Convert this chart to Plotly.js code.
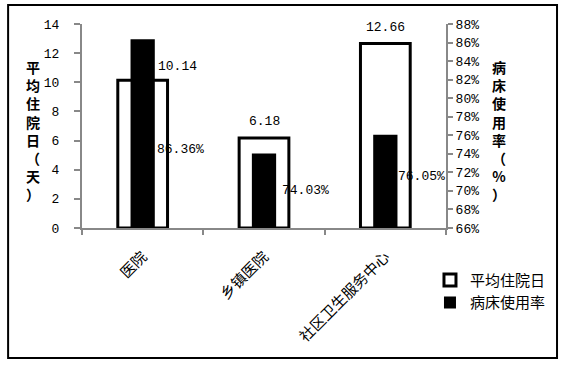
<!DOCTYPE html>
<html>
<head>
<meta charset="utf-8">
<script src="https://cdn.plot.ly/plotly-3.0.1.min.js"></script>
<style>html,body{margin:0;padding:0;background:#fff;}#chart{width:568px;height:367px;}</style>
</head>
<body>
<div id="chart"></div>
<script>
var categories = ['医院', '乡镇医院', '社区卫生服务中心'];
var avgStayDays = [10.14, 6.18, 12.66];
var bedUsageRate = [86.36, 74.03, 76.05];
var dayLabels = ['10.14', '6.18', '12.66'];
var rateLabels = ['86.36%', '74.03%', '76.05%'];
var leftTicks = [0, 2, 4, 6, 8, 10, 12, 14];
var rightTicks = [66, 68, 70, 72, 74, 76, 78, 80, 82, 84, 86, 88];
var rightTickText = rightTicks.map(function (v) { return v + '%'; });

var numFont = {family: 'Liberation Mono, monospace', size: 13, color: '#000'};
var cjk = 'Noto Sans CJK SC, sans-serif';

var traces = [
  {type: 'bar', name: '平均住院日', x: categories, y: avgStayDays, yaxis: 'y', width: 0.41,
   marker: {color: '#fff', line: {color: '#000', width: 3}}, hoverinfo: 'none'},
  {type: 'bar', name: '病床使用率', x: categories, y: bedUsageRate, yaxis: 'y2', width: 0.2,
   marker: {color: '#000', line: {width: 0}}, hoverinfo: 'none'}
];

var annotations = [];
var dayShift = [[35, 14], [0, 16], [0, 16]];
var rateShift = [[38, -16], [41, 0], [36, 5]];
for (var i = 0; i < categories.length; i++) {
  annotations.push({x: categories[i], y: avgStayDays[i], xref: 'x', yref: 'y', text: dayLabels[i],
    showarrow: false, xshift: dayShift[i][0], yshift: dayShift[i][1], font: numFont});
  annotations.push({x: categories[i], y: (bedUsageRate[i] + 66) / 2, xref: 'x', yref: 'y2', text: rateLabels[i],
    showarrow: false, xshift: rateShift[i][0], yshift: rateShift[i][1], font: numFont});
}
annotations.push({xref: 'paper', yref: 'paper', x: -0.16, y: 0.48, showarrow: false,
  text: '<b>平<br>均<br>住<br>院<br>日<br>（<br>天<br>）</b>', font: {family: cjk, size: 14, color: '#000'}});
annotations.push({xref: 'paper', yref: 'paper', x: 1.17, y: 0.48, showarrow: false,
  text: '<b>病<br>床<br>使<br>用<br>率<br>（<br>%<br>）</b>', font: {family: cjk, size: 14, color: '#000'}});

var layout = {
  width: 568, height: 367,
  margin: {l: 82, r: 122, t: 24, b: 139},
  paper_bgcolor: '#fff', plot_bgcolor: '#fff',
  barmode: 'overlay',
  showlegend: true,
  legend: {x: 0.956, y: -0.175, xanchor: 'left', yanchor: 'top', font: {family: cjk, size: 15, color: '#000'},
    bgcolor: 'rgba(0,0,0,0)', traceorder: 'normal'},
  xaxis: {type: 'category', showgrid: false, zeroline: false, showline: true, linecolor: '#888', linewidth: 2,
    ticks: 'outside', tickson: 'boundaries', ticklen: 5, tickcolor: '#888', tickwidth: 2,
    tickangle: -45, tickfont: {family: cjk, size: 15, color: '#000'}, ticklabelstandoff: 12, range: [-0.5, 2.5]},
  yaxis: {range: [0, 14], tickvals: leftTicks, showgrid: false, zeroline: false, showline: true,
    linecolor: '#888', linewidth: 2, ticks: 'outside', ticklen: 6, tickcolor: '#888', tickwidth: 2,
    tickfont: numFont, ticklabelstandoff: 12},
  yaxis2: {overlaying: 'y', side: 'right', range: [66, 88], tickmode: 'array', tickvals: rightTicks, ticktext: rightTickText,
    showgrid: false, zeroline: false, showline: true, linecolor: '#888', linewidth: 2,
    ticks: 'outside', ticklen: 5, tickcolor: '#888', tickwidth: 2, tickfont: numFont},
  annotations: annotations,
  shapes: [{type: 'rect', xref: 'paper', yref: 'paper', x0: -0.203, x1: 1.305, y0: -0.637, y1: 1.093,
    line: {color: '#000', width: 2}, fillcolor: 'rgba(0,0,0,0)'}]
};

Plotly.newPlot('chart', traces, layout, {staticPlot: true});
</script>
</body>
</html>
